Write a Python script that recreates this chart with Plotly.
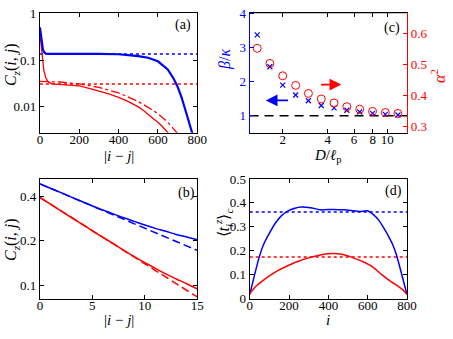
import math
import plotly.graph_objects as go

# ---------------- data ----------------
# panel (a): C_z(i,j) vs |i-j| (log y)
a_blue_x = [0, 5, 10, 15, 20, 25, 30, 50, 100, 200, 300, 400, 450, 500, 550, 600, 650, 680, 700, 720, 740, 760, 775]
a_blue_y = [0.50, 0.33, 0.22, 0.17, 0.15, 0.14, 0.137, 0.136, 0.137, 0.137, 0.136, 0.133, 0.128, 0.121, 0.112, 0.094, 0.063, 0.040, 0.027, 0.016, 0.0085, 0.0045, 0.0027]
a_red_x = [0, 5, 10, 15, 20, 30, 40, 60, 100, 150, 200, 250, 300, 350, 400, 450, 500, 530, 560, 580, 600, 620, 640, 655]
a_red_y = [0.37, 0.25, 0.15, 0.09, 0.06, 0.042, 0.035, 0.031, 0.030, 0.029, 0.028, 0.025, 0.022, 0.019, 0.016, 0.013, 0.0100, 0.0082, 0.0064, 0.0056, 0.0047, 0.0039, 0.0032, 0.0027]
a_red_dd_x = [0, 100, 200, 300, 400, 450, 500, 550, 600, 650, 680, 700]
a_red_dd_y = [0.035, 0.034, 0.031, 0.026, 0.020, 0.016, 0.013, 0.0098, 0.0072, 0.0047, 0.0033, 0.0027]
a_blue_level = 0.134
a_red_level = 0.031

# panel (b): short-distance decay (log y)
b_x = list(range(16))
b_blue_y = [0.488, 0.455, 0.425, 0.396, 0.370, 0.345, 0.324, 0.305, 0.287, 0.271, 0.256, 0.243, 0.232, 0.221, 0.212, 0.203]
b_red_y = [0.394, 0.355, 0.320, 0.288, 0.260, 0.234, 0.211, 0.191, 0.172, 0.156, 0.142, 0.130, 0.119, 0.110, 0.102, 0.094]
b_fit_x = [0, 15]
b_blue_fit = [0.488, 0.172]
b_red_fit = [0.394, 0.083]

# panel (c): beta/kappa and alpha^2 vs D/l_p
c_x = [1.35, 1.64, 2.0, 2.44, 2.97, 3.62, 4.41, 5.37, 6.55, 7.98, 9.72, 11.8]
c_beta = [3.38, 2.44, 1.90, 1.61, 1.44, 1.30, 1.23, 1.16, 1.11, 1.07, 1.04, 1.02]
c_alpha2 = [0.552, 0.503, 0.463, 0.432, 0.406, 0.388, 0.375, 0.363, 0.355, 0.348, 0.344, 0.341]
c_ref_level = 1.0

# panel (d): <t_i^z>_c vs i
d_blue_x = [0, 25, 46, 70, 96, 130, 162, 195, 230, 261, 310, 360, 426, 480, 525, 558, 599, 630, 657, 685, 706, 730, 747, 770, 800]
d_blue_y = [0.017, 0.10, 0.167, 0.225, 0.267, 0.315, 0.347, 0.367, 0.378, 0.383, 0.380, 0.371, 0.373, 0.371, 0.367, 0.364, 0.367, 0.350, 0.327, 0.290, 0.260, 0.220, 0.180, 0.110, 0.016]
d_red_x = [0, 30, 62, 100, 145, 180, 244, 300, 350, 393, 430, 459, 500, 540, 574, 620, 671, 720, 757, 780, 800]
d_red_y = [0.020, 0.050, 0.072, 0.095, 0.118, 0.132, 0.155, 0.170, 0.180, 0.187, 0.188, 0.186, 0.178, 0.166, 0.155, 0.135, 0.100, 0.070, 0.050, 0.035, 0.017]
d_blue_level = 0.362
d_red_level = 0.174

BLUE = "#0000ff"
RED = "#ff0000"
FONT = "Liberation Serif"

fig = go.Figure()

# (a)
fig.add_trace(go.Scatter(x=[0, 800], y=[a_blue_level] * 2, mode="lines", line=dict(color=BLUE, width=1.5, dash="dot"), xaxis="x", yaxis="y"))
fig.add_trace(go.Scatter(x=[0, 800], y=[a_red_level] * 2, mode="lines", line=dict(color=RED, width=1.5, dash="dot"), xaxis="x", yaxis="y"))
fig.add_trace(go.Scatter(x=a_red_dd_x, y=a_red_dd_y, mode="lines", line=dict(color=RED, width=1.3, dash="dashdot"), xaxis="x", yaxis="y"))
fig.add_trace(go.Scatter(x=a_red_x, y=a_red_y, mode="lines", line=dict(color=RED, width=1.3), xaxis="x", yaxis="y"))
fig.add_trace(go.Scatter(x=a_blue_x, y=a_blue_y, mode="lines", line=dict(color=BLUE, width=2.2), xaxis="x", yaxis="y"))

# (b)
fig.add_trace(go.Scatter(x=b_fit_x, y=b_blue_fit, mode="lines", line=dict(color=BLUE, width=1.5, dash="8px,4px"), xaxis="x2", yaxis="y2"))
fig.add_trace(go.Scatter(x=b_fit_x, y=b_red_fit, mode="lines", line=dict(color=RED, width=1.5, dash="8px,4px"), xaxis="x2", yaxis="y2"))
fig.add_trace(go.Scatter(x=b_x, y=b_blue_y, mode="lines", line=dict(color=BLUE, width=1.5, shape="spline"), xaxis="x2", yaxis="y2"))
fig.add_trace(go.Scatter(x=b_x, y=b_red_y, mode="lines", line=dict(color=RED, width=1.5, shape="spline"), xaxis="x2", yaxis="y2"))

# (c)
fig.add_trace(go.Scatter(x=[1.2, 13.6], y=[c_ref_level] * 2, mode="lines", line=dict(color="black", width=1.5, dash="9px,6px"), xaxis="x3", yaxis="y3"))
fig.add_trace(go.Scatter(x=c_x, y=c_beta, mode="markers", marker=dict(symbol="x-thin", size=5, color=BLUE, line=dict(color=BLUE, width=1.2)), xaxis="x3", yaxis="y3"))
fig.add_trace(go.Scatter(x=c_x, y=c_alpha2, mode="markers", marker=dict(symbol="circle-open", size=8, color=RED, line=dict(color=RED, width=1)), xaxis="x3", yaxis="y4"))

# (d)
fig.add_trace(go.Scatter(x=[0, 800], y=[d_blue_level] * 2, mode="lines", line=dict(color=BLUE, width=1.5, dash="dot"), xaxis="x4", yaxis="y5"))
fig.add_trace(go.Scatter(x=[0, 800], y=[d_red_level] * 2, mode="lines", line=dict(color=RED, width=1.5, dash="dot"), xaxis="x4", yaxis="y5"))
fig.add_trace(go.Scatter(x=d_blue_x, y=d_blue_y, mode="lines", line=dict(color=BLUE, width=1.5, shape="spline", smoothing=0.6), xaxis="x4", yaxis="y5"))
fig.add_trace(go.Scatter(x=d_red_x, y=d_red_y, mode="lines", line=dict(color=RED, width=1.5, shape="spline", smoothing=0.6), xaxis="x4", yaxis="y5"))

W, H = 453, 339
def px(x):
    return x / W
def py(y):
    return 1 - y / H

XL = [px(38), px(200)]
XR = [px(254), px(416)]
YT = [py(131.5), py(6)]
YB = [py(305), py(180)]

tickfont = dict(family=FONT, size=13, color="black")
common = dict(ticks="inside", ticklen=4, tickwidth=1, showline=True, linewidth=1, linecolor="black",
              mirror="ticks", showgrid=False, zeroline=False, tickfont=tickfont, tickcolor="black")
xcommon = dict(common, ticklabelstandoff=-5)

layout = dict(
    width=W, height=H, margin=dict(l=0, r=0, t=0, b=0), showlegend=False,
    paper_bgcolor="white", plot_bgcolor="white",
    xaxis=dict(domain=XL, anchor="y", range=[0, 800], tickvals=[0, 200, 400, 600, 800], **xcommon),
    yaxis=dict(domain=YT, anchor="x", type="log", range=[-2.55, 0.01], tickvals=[0.01, 0.1, 1], ticktext=["0.01", "0.1", "1"], **common),
    xaxis2=dict(domain=XL, anchor="y2", range=[0, 15], tickvals=[0, 5, 10, 15], **xcommon),
    yaxis2=dict(domain=YB, anchor="x2", type="log", range=[-1.0915, -0.279], tickvals=[0.1, 0.2, 0.4], ticktext=["0.1", "0.2", "0.4"], **common),
    xaxis3=dict(domain=XR, anchor="y3", type="log", range=[0.080, 1.133], tickvals=[2, 4, 6, 8, 10], ticktext=["2", "4", "6", "8", "10"], **xcommon),
    yaxis3=dict(domain=YT, anchor="x3", range=[0.5, 4.03], tickvals=[1, 2, 3, 4], ticks="inside", ticklen=4,
                showline=True, linewidth=1, linecolor=BLUE, tickcolor=BLUE, mirror=False, showgrid=False, zeroline=False,
                tickfont=dict(family=FONT, size=13, color=BLUE)),
    yaxis4=dict(overlaying="y3", anchor="x3", side="right", range=[0.279, 0.667], tickvals=[0.3, 0.4, 0.5, 0.6], ticks="inside", ticklen=4,
                showline=True, linewidth=1, linecolor=RED, tickcolor=RED, showgrid=False, zeroline=False,
                tickfont=dict(family=FONT, size=13, color=RED)),
    xaxis4=dict(domain=XR, anchor="y5", range=[0, 800], tickvals=[0, 200, 400, 600, 800], **xcommon),
    yaxis5=dict(domain=YB, anchor="x4", range=[0, 0.5], tickvals=[0, 0.1, 0.2, 0.3, 0.4, 0.5], **common),
)
fig.update_layout(**layout)

anns = [
    # axis titles
    dict(text="|<i>i</i> − <i>j</i>|", x=px(119), y=py(156), size=15),
    dict(text="|<i>i</i> − <i>j</i>|", x=px(119), y=py(327), size=15),
    dict(text="<i>D</i>/<i>ℓ</i><sub>p</sub>", x=px(335), y=py(156), size=15),
    dict(text="<i>i</i>", x=px(335), y=py(328), size=15),
    dict(text="<i>C<sub>z</sub></i>(<i>i</i>, <i>j</i>)", x=px(9), y=py(60), textangle=-90),
    dict(text="<i>C<sub>z</sub></i>(<i>i</i>, <i>j</i>)", x=px(9), y=py(243), textangle=-90),
    dict(text="<i>β</i>/<i>κ</i>", x=px(228), y=py(55), textangle=-90, color=BLUE),
    dict(text="<i>α</i><sup>2</sup>", x=px(448), y=py(72), textangle=-90, color=RED),
    dict(text="⟨<i>t<sub>i</sub><sup>z</sup></i>⟩<sub><i>c</i></sub>", x=px(227), y=py(226), textangle=-90),
    # panel labels
    dict(text="(a)", x=px(185), y=py(19), size=14),
    dict(text="(b)", x=px(189), y=py(195), size=14),
    dict(text="(c)", x=px(400), y=py(22), size=14),
    dict(text="(d)", x=px(402), y=py(193), size=14),
]
for a in anns:
    fig.add_annotation(text=a["text"], x=a["x"], y=a["y"], xref="paper", yref="paper",
                       showarrow=False, textangle=a.get("textangle", 0), xanchor="center", yanchor="middle",
                       font=dict(family=FONT, size=a.get("size", 16), color=a.get("color", "black")))

# arrows in panel (c)
fig.add_annotation(x=math.log10(4.93), y=0.4345, ax=math.log10(3.53), ay=0.4345, xref="x3", yref="y4",
                   axref="x3", ayref="y4", showarrow=True, arrowhead=2, arrowsize=1.3, arrowwidth=1.8,
                   arrowcolor=RED, text="")
fig.add_annotation(x=math.log10(1.54), y=1.45, ax=math.log10(2.22), ay=1.45, xref="x3", yref="y3",
                   axref="x3", ayref="y3", showarrow=True, arrowhead=2, arrowsize=1.3, arrowwidth=1.8,
                   arrowcolor=BLUE, text="")

# black top frame for panel (c)
fig.add_shape(type="line", xref="paper", yref="paper", x0=XR[0], x1=XR[1], y0=YT[1], y1=YT[1], line=dict(color="black", width=1))

fig.write_html("out.html", config={"displayModeBar": False},
               post_script="document.body.style.margin='0';document.body.style.padding='0';")
